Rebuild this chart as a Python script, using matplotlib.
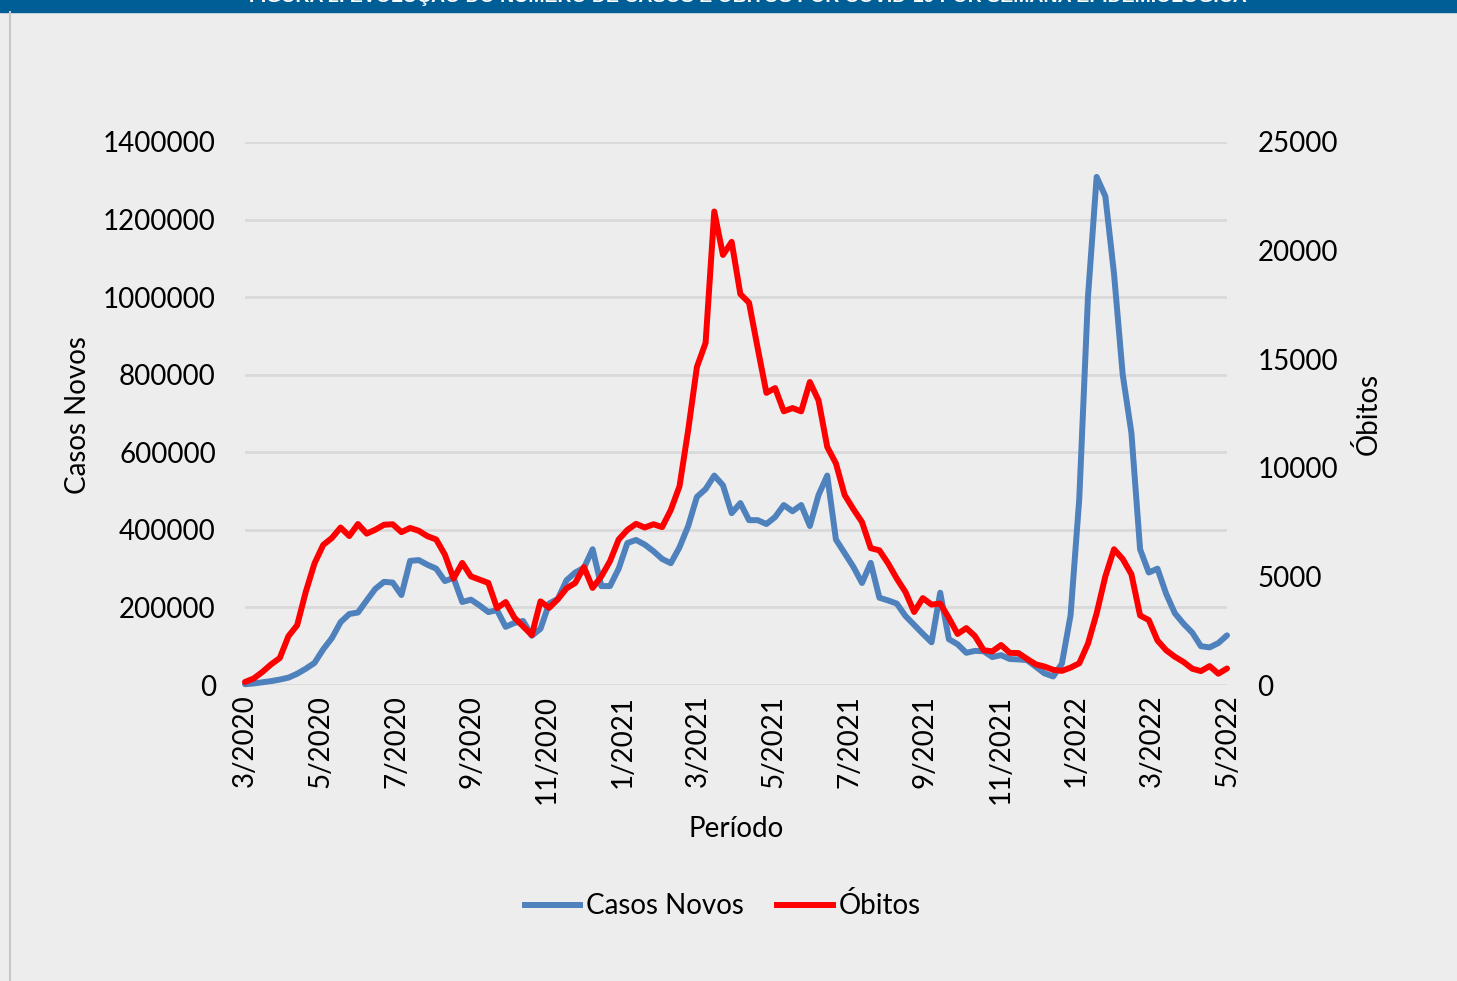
import numpy as np
import matplotlib
matplotlib.use('Agg')
import matplotlib.pyplot as plt
from matplotlib.lines import Line2D

# casos novos por semana epidemiológica (mar/2020 a mai/2022)
casos_novos = [
    2000, 4000, 7000, 10000, 14000, 19000, 29000, 42000, 57000, 92000,
    121000, 162000, 183000, 187000, 218000, 248000, 266000, 264000, 232000, 320000,
    322000, 310000, 300000, 268000, 276000, 214000, 220000, 205000, 188000, 193000,
    150000, 160000, 165000, 127000, 145000, 210000, 222000, 270000, 290000, 302000,
    350000, 255000, 255000, 300000, 366000, 374000, 362000, 345000, 325000, 314000,
    355000, 410000, 485000, 505000, 540000, 515000, 443000, 469000, 425000, 425000,
    415000, 433000, 464000, 448000, 464000, 410000, 490000, 540000, 375000, 340000,
    305000, 263000, 315000, 225000, 218000, 210000, 178000, 155000, 132000, 110000,
    238000, 118000, 105000, 83000, 88000, 87000, 72000, 77000, 67000, 66000,
    64000, 47000, 30000, 22000, 55000, 180000, 480000, 1000000, 1310000, 1260000,
    1060000, 800000, 650000, 350000, 290000, 300000, 235000, 185000, 158000, 135000,
    100000, 97000, 108000, 128000,
]

obitos = [
    140, 300, 600, 950, 1240, 2250, 2750, 4300, 5600, 6450,
    6770, 7250, 6860, 7410, 6970, 7150, 7380, 7400, 7040, 7230,
    7100, 6850, 6700, 6000, 4900, 5620, 5000, 4850, 4700, 3540,
    3820, 3100, 2700, 2300, 3850, 3550, 3950, 4450, 4700, 5430,
    4470, 5000, 5700, 6700, 7140, 7420, 7250, 7400, 7270, 8060,
    9150, 11740, 14640, 15750, 21800, 19800, 20400, 18000, 17600, 15500,
    13450, 13670, 12600, 12750, 12600, 13950, 13100, 10960, 10200, 8750,
    8100, 7500, 6300, 6200, 5600, 4900, 4280, 3360, 4000, 3700,
    3750, 3080, 2350, 2620, 2250, 1600, 1550, 1840, 1480, 1470,
    1200, 950, 850, 700, 650, 800, 1000, 1900, 3300, 5000,
    6250, 5800, 5100, 3200, 2990, 2050, 1600, 1300, 1060, 750,
    640, 870, 520, 760,
]

rotulos_periodo = ['3/2020', '5/2020', '7/2020', '9/2020', '11/2020', '1/2021', '3/2021',
                   '5/2021', '7/2021', '9/2021', '11/2021', '1/2022', '3/2022', '5/2022']
ticks_casos = [0, 200000, 400000, 600000, 800000, 1000000, 1200000, 1400000]
ticks_obitos = [0, 5000, 10000, 15000, 20000, 25000]

AZUL = '#4F81BD'
VERMELHO = '#FF0000'
FUNDO = '#EDEDED'
GRADE = '#D9D9D9'
FONTE = 'Lato'
TAM = 20
ESPESSURA = 4.3


def desenhar_moldura(fig):
    # faixa azul do título, quase toda fora da área visível
    fig.patches.append(plt.Rectangle((0, 1 - 12 / 981), 1, 12 / 981, transform=fig.transFigure,
                                     color='#005E96', zorder=0))
    fig.text(0.513, 1 + 4 / 981, 'FIGURA 2. EVOLUÇÃO DO NÚMERO DE CASOS E ÓBITOS POR COVID-19 POR SEMANA EPIDEMIOLÓGICA',
             ha='center', va='center', color='white', fontsize=14, fontweight='bold',
             family='Liberation Sans')
    fig.lines.append(Line2D([9.5 / 1457, 9.5 / 1457], [0, 1 - 12 / 981], transform=fig.transFigure,
                            color='#C8C8C8', linewidth=1.5))


def main():
    plt.rcParams['font.family'] = [FONTE, 'DejaVu Sans']
    fig = plt.figure(figsize=(14.57, 9.81), dpi=100, facecolor=FUNDO)
    desenhar_moldura(fig)

    ax = fig.add_axes([245 / 1457, 1 - 685 / 981, 982 / 1457, 543 / 981])
    ax.set_facecolor('none')
    ax2 = ax.twinx()

    x = np.arange(len(casos_novos))
    ax.plot(x, casos_novos, color=AZUL, linewidth=ESPESSURA, solid_joinstyle='round',
            solid_capstyle='round', clip_on=False, zorder=3)
    ax2.plot(x, obitos, color=VERMELHO, linewidth=ESPESSURA, solid_joinstyle='round',
             solid_capstyle='round', clip_on=False, zorder=4)

    ax.set_xlim(0, len(casos_novos) - 1)
    ax.set_ylim(0, 1400000)
    ax2.set_ylim(0, 25000)

    ax.set_yticks(ticks_casos)
    ax.set_yticklabels([str(t) for t in ticks_casos])
    ax2.set_yticks(ticks_obitos)
    ax2.set_yticklabels([str(t) for t in ticks_obitos])
    ax.set_xticks(np.linspace(0, len(casos_novos) - 1, len(rotulos_periodo)))
    ax.set_xticklabels(rotulos_periodo, rotation=90)

    ax.grid(axis='y', color=GRADE, linewidth=2)
    ax.set_axisbelow(True)
    for eixo in (ax, ax2):
        for lado in eixo.spines.values():
            lado.set_visible(False)
    ax.tick_params(axis='both', length=0, labelsize=TAM, colors='black')
    ax.tick_params(axis='y', pad=21)
    ax.tick_params(axis='x', pad=7)
    ax2.tick_params(axis='y', length=0, labelsize=TAM, pad=22)

    ax.set_ylabel('Casos Novos', fontsize=TAM)
    ax.yaxis.set_label_coords(-0.157, 0.497)
    ax2.set_ylabel('Óbitos', fontsize=TAM)
    ax2.yaxis.set_label_coords(1.130, 0.5)
    ax.set_xlabel('Período', fontsize=TAM)
    ax.xaxis.set_label_coords(0.5, -0.242)

    handles = [Line2D([], [], color=AZUL, linewidth=ESPESSURA),
               Line2D([], [], color=VERMELHO, linewidth=ESPESSURA)]
    fig.legend(handles, ['Casos Novos', 'Óbitos'], loc='center', ncol=2, frameon=False,
               bbox_to_anchor=(0.496, 0.0765), fontsize=TAM, handlelength=2.0,
               handletextpad=0.2, columnspacing=1.2)

    fig.savefig('out.png', dpi=100, facecolor=FUNDO)


if __name__ == '__main__':
    main()
